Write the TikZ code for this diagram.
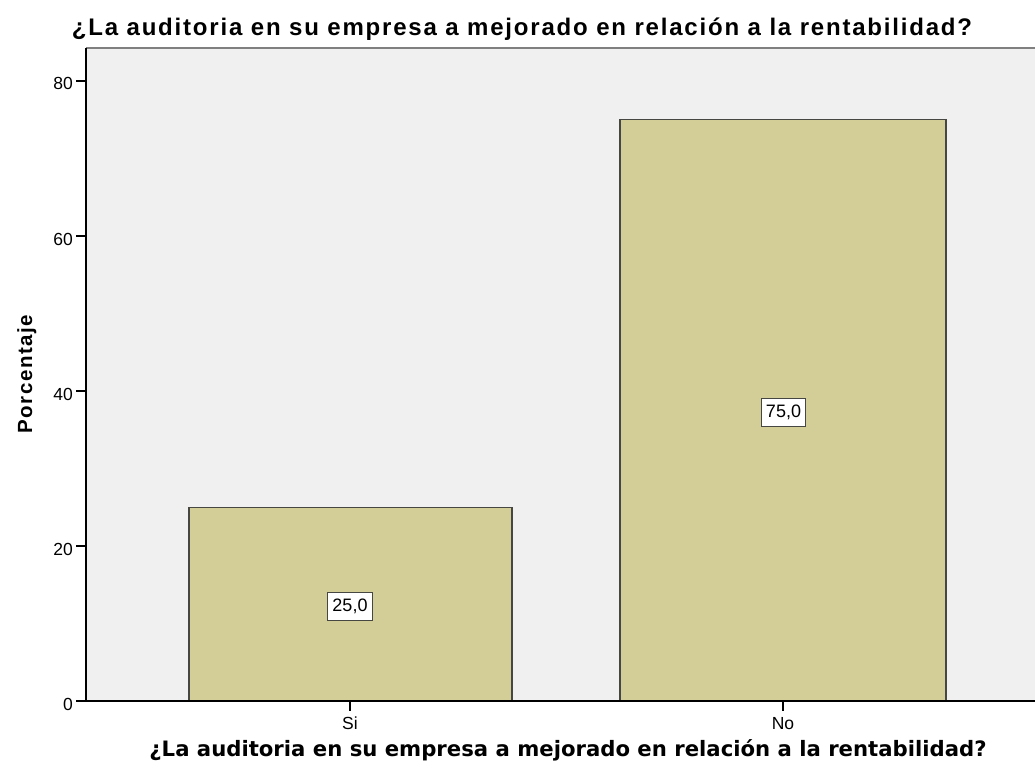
\documentclass[tikz,border=0pt]{standalone}
\usepackage{fontspec}
\setmainfont{Liberation Sans}
\newfontfamily\spacedfont[LetterSpace=7.5]{Liberation Sans}
\newfontfamily\labfont{DejaVu Sans}
\definecolor{plotbg}{RGB}{240,240,240}
\definecolor{barfill}{RGB}{211,206,151}
\definecolor{barline}{RGB}{70,70,66}
\definecolor{frameline}{RGB}{128,128,128}
\begin{document}
\begin{tikzpicture}[x=1pt, y=-1pt,
    bar/.style={fill=barfill, draw=barline, line width=1.3pt},
    val/.style={draw=barline, fill=white, line width=1pt, inner xsep=4.5pt,
      minimum height=28pt, font=\fontsize{18}{18}\selectfont},
    ticklab/.style={font=\fontsize{17.5}{17.5}\selectfont, inner sep=0pt}]
  \useasboundingbox (0,0) rectangle (1035,773);
  % \draw[step=50, gray, very thin] (0,0) grid (1035,773);
  \fill[plotbg] (86,48) rectangle (1035,701);
  \draw[frameline, line width=1.5pt] (86,48) -- (1035,48);

  % bars, 7.75 px per percent
  \draw[bar] (189,701) rectangle (512,{701-7.75*25});
  \draw[bar] (620,701) rectangle (946,{701-7.75*75});

  % axes
  \draw[line width=1.2pt] (86,48) -- (86,701) -- (1035,701);
  \foreach \v in {0,20,...,80} {
    \draw[line width=1.2pt] (76,{701-7.75*\v}) -- (86,{701-7.75*\v});
    \node[ticklab, anchor=base east] (y\v) at (73,{710-7.75*\v}) {\v};
  }
  \draw[line width=1.2pt] (350,701) -- (350,711);
  \draw[line width=1.2pt] (783,701) -- (783,711);
  \node[ticklab, anchor=base] (si) at (350,729) {Si};
  \node[ticklab, anchor=base] (no) at (783,729) {No};

  % value labels
  \node[val] (v25) at (350,606.5) {25,0};
  \node[val] (v75) at (783.5,412) {75,0};

  % titles
  \node[font=\spacedfont\bfseries\fontsize{24}{24}\selectfont, anchor=base, inner sep=0pt] (title) at (522,36)
    {¿La auditoria en su empresa a mejorado en relación a la rentabilidad?};
  \node[font=\labfont\bfseries\fontsize{21.2}{21.2}\selectfont, anchor=base, inner sep=0pt] (xlab) at (568,756)
    {¿La auditoria en su empresa a mejorado en relación a la rentabilidad?};
  \node[font=\spacedfont\bfseries\fontsize{20.5}{20.5}\selectfont, rotate=90, anchor=base, inner sep=0pt] (ylab) at (32,374) {Porcentaje};
\end{tikzpicture}
\end{document}
